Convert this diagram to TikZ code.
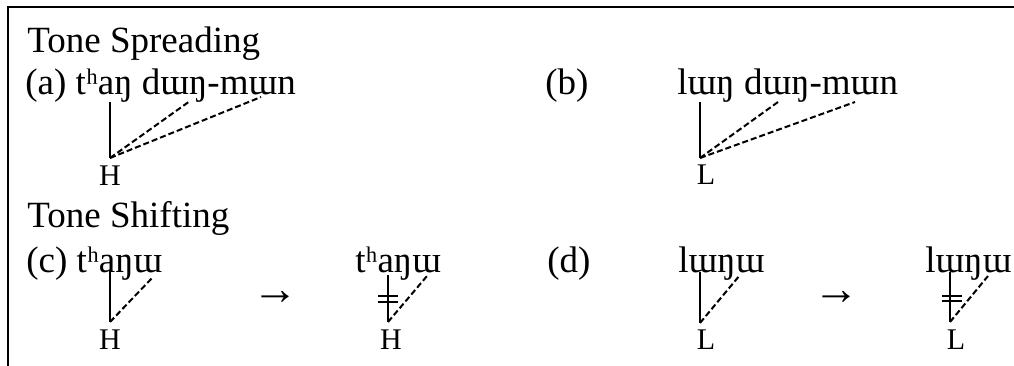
\documentclass[tikz,border=0pt]{standalone}
\usepackage{fontspec}
\setmainfont{Liberation Serif}
\begin{document}
\begin{tikzpicture}[x=0.5pt,y=-0.5pt,
  big/.style={font=\fontsize{18.5pt}{20pt}\selectfont, inner sep=0pt, anchor=base west},
  tone/.style={font=\fontsize{15pt}{17pt}\selectfont, inner sep=0pt},
  arr/.style={font=\fontsize{23pt}{25pt}\selectfont, inner sep=0pt},
  assoc/.style={line width=1pt},
  spread/.style={line width=1pt, dash pattern=on 3pt off 1.5pt},
  delink/.style={line width=0.8pt},
  frame/.style={line width=1pt}]
\useasboundingbox (0,0) rectangle (1014,365);
\coordinate (fbl) at (8,366);
\coordinate (ftl) at (8,7);
\coordinate (ftr) at (1015,7);
\draw[frame] (fbl) -- (ftl) -- (ftr);

% headings
\node[big] (h1) at (27,52) {Tone Spreading};
\node[big] (h2) at (27,227) {Tone Shifting};

% (a)
\node[big] (wa) at (25,94) {(a) tʰaŋ dɯŋ-mɯn};
\node[tone] (Ha) at (110,176) {H};
\coordinate (a0) at (110,102);
\coordinate (a1) at (190,101);
\coordinate (a2) at (261,97);
\coordinate (aH) at (110,158);
\draw[assoc] (a0) -- (aH);
\draw[spread] (aH) -- (a1);
\draw[spread] (aH) -- (a2);

% (b)
\node[big] (lb) at (545,94) {(b)};
\node[big] (wb) at (677,94) {lɯŋ dɯŋ-mɯn};
\node[tone] (Lb) at (706,175) {L};
\coordinate (b0) at (700,102);
\coordinate (b1) at (778,102);
\coordinate (b2) at (855,102);
\coordinate (bL) at (700,158);
\draw[assoc] (b0) -- (bL);
\draw[spread] (bL) -- (b1);
\draw[spread] (bL) -- (b2);

% (c)
\node[big] (wc) at (26,272) {(c) tʰaŋɯ};
\node[tone] (Hc) at (110,340) {H};
\coordinate (c0) at (110,270);
\coordinate (c1) at (153,277);
\coordinate (cH) at (110,322);
\draw[assoc] (c0) -- (cH);
\draw[spread] (cH) -- (c1);
\node[arr] (ac) at (275,298) {→};

\node[big] (wc2) at (355,272) {tʰaŋɯ};
\node[tone] (Hc2) at (391,340) {H};
\coordinate (e0) at (388,275);
\coordinate (e1) at (427,276);
\coordinate (eH) at (388,322);
\coordinate (eb1l) at (378,296);
\coordinate (eb1r) at (398,296);
\coordinate (eb2l) at (378,302);
\coordinate (eb2r) at (398,302);
\draw[assoc] (e0) -- (eH);
\draw[spread] (eH) -- (e1);
\draw[delink] (eb1l) -- (eb1r);
\draw[delink] (eb2l) -- (eb2r);

% (d)
\node[big] (ld) at (547,272) {(d)};
\node[big] (wd) at (678,272) {lɯŋɯ};
\node[tone] (Ld) at (706,340) {L};
\coordinate (d0) at (700,272);
\coordinate (d1) at (740,275);
\coordinate (dL) at (700,323);
\draw[assoc] (d0) -- (dL);
\draw[spread] (dL) -- (d1);
\node[arr] (ad) at (836,298) {→};

\node[big] (wd2) at (925,272) {lɯŋɯ};
\node[tone] (Ld2) at (956,340) {L};
\coordinate (f0) at (950,272);
\coordinate (f1) at (988,276);
\coordinate (fL) at (950,322);
\coordinate (fb1l) at (942,296);
\coordinate (fb1r) at (962,296);
\coordinate (fb2l) at (942,301);
\coordinate (fb2r) at (962,301);
\draw[assoc] (f0) -- (fL);
\draw[spread] (fL) -- (f1);
\draw[delink] (fb1l) -- (fb1r);
\draw[delink] (fb2l) -- (fb2r);
\end{tikzpicture}
\end{document}
